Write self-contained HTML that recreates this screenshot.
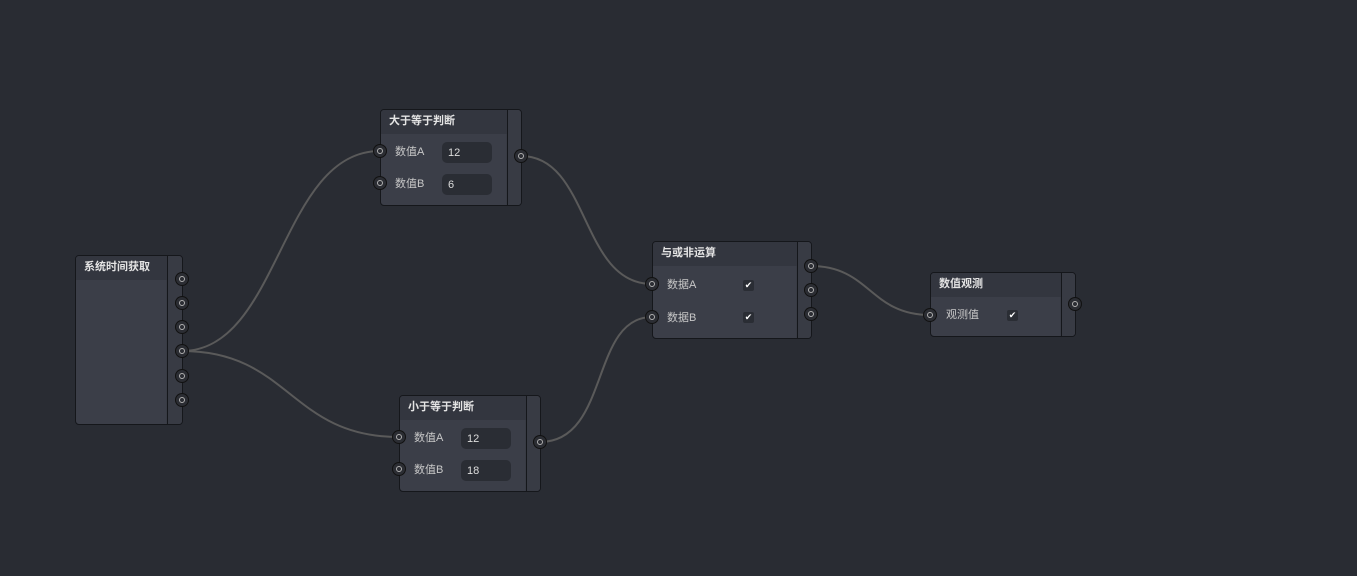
<!DOCTYPE html>
<html><head><meta charset="utf-8"><style>
body{margin:0;width:1357px;height:576px;background:#292c33;overflow:hidden;position:relative;font-family:"Liberation Sans","Noto Sans CJK SC",sans-serif;}
.n{position:absolute;background:#3b3e48;border:1px solid #15171b;border-radius:4px;box-sizing:border-box;overflow:hidden}
.h{position:absolute;left:0;top:0;height:24px;background:#33363f;color:#e4e4e4;font-size:11px;font-weight:bold;line-height:23px;padding-left:8px;box-sizing:border-box}
.d{position:absolute;top:0;bottom:0;width:1px;background:#15171b}
.rc{position:absolute;top:0;bottom:0;right:0;background:#383b44}
.l{position:absolute;color:#c8c8c8;font-size:11px;line-height:12px}
.in{position:absolute;width:50px;height:21px;background:#2a2d34;border-radius:5px;color:#ddd;font-size:11px;line-height:22px;padding-left:6px;box-sizing:border-box}
.cb{position:absolute;width:11px;height:11px;background:#2a2d34;border-radius:2px;color:#fff;font-size:9px;line-height:11px;text-align:center}
.p{position:absolute;width:12px;height:12px;margin:-6px 0 0 -6px;border-radius:50%;background:#2b2d33;box-shadow:0 0 0 1px #111;}
.p::after{content:"";position:absolute;left:3px;top:3px;width:4px;height:4px;border-radius:50%;border:1px solid #b0b0b0;}
</style></head><body>
<svg width="1357" height="576" style="position:absolute;left:0;top:0" fill="none" stroke="#5a5a5a" stroke-width="2">
<path d="M182 351 C280 351 280 151 380 151"/>
<path d="M182 351 C290 351 290 437 399 437"/>
<path d="M521 156 C590 156 580 284 652 284"/>
<path d="M540 442 C610 442 590 317 652 317"/>
<path d="M811 266 C870 266 870 315 930 315"/>
</svg>
<div class="n" style="left:75px;top:255px;width:108px;height:170px"><div class="rc" style="width:16px"></div><div class="h" style="width:91px">系统时间获取</div><div class="d" style="left:91px"></div></div>
<div class="n" style="left:380px;top:109px;width:142px;height:97px"><div class="rc" style="width:15px"></div><div class="h" style="width:126px">大于等于判断</div><div class="d" style="left:126px"></div>
<div class="l" style="left:14px;top:36px">数值A</div><div class="in" style="left:61px;top:32px">12</div>
<div class="l" style="left:14px;top:68px">数值B</div><div class="in" style="left:61px;top:64px">6</div></div>
<div class="n" style="left:399px;top:395px;width:142px;height:97px"><div class="rc" style="width:15px"></div><div class="h" style="width:126px">小于等于判断</div><div class="d" style="left:126px"></div>
<div class="l" style="left:14px;top:36px">数值A</div><div class="in" style="left:61px;top:32px">12</div>
<div class="l" style="left:14px;top:68px">数值B</div><div class="in" style="left:61px;top:64px">18</div></div>
<div class="n" style="left:652px;top:241px;width:160px;height:98px"><div class="rc" style="width:15px"></div><div class="h" style="width:144px">与或非运算</div><div class="d" style="left:144px"></div>
<div class="l" style="left:14px;top:37px">数据A</div><div class="cb" style="left:90px;top:38px">✔</div>
<div class="l" style="left:14px;top:70px">数据B</div><div class="cb" style="left:90px;top:70px">✔</div></div>
<div class="n" style="left:930px;top:272px;width:146px;height:65px"><div class="rc" style="width:15px"></div><div class="h" style="width:130px">数值观测</div><div class="d" style="left:130px"></div>
<div class="l" style="left:15px;top:36px">观测值</div><div class="cb" style="left:76px;top:37px">✔</div></div>
<div class="p" style="left:182px;top:279px"></div><div class="p" style="left:182px;top:303px"></div><div class="p" style="left:182px;top:327px"></div><div class="p" style="left:182px;top:351px"></div><div class="p" style="left:182px;top:376px"></div><div class="p" style="left:182px;top:400px"></div>
<div class="p" style="left:380px;top:151px"></div><div class="p" style="left:380px;top:183px"></div><div class="p" style="left:521px;top:156px"></div>
<div class="p" style="left:399px;top:437px"></div><div class="p" style="left:399px;top:469px"></div><div class="p" style="left:540px;top:442px"></div>
<div class="p" style="left:652px;top:284px"></div><div class="p" style="left:652px;top:317px"></div><div class="p" style="left:811px;top:266px"></div><div class="p" style="left:811px;top:290px"></div><div class="p" style="left:811px;top:314px"></div>
<div class="p" style="left:930px;top:315px"></div><div class="p" style="left:1075px;top:304px"></div>
</body></html>
